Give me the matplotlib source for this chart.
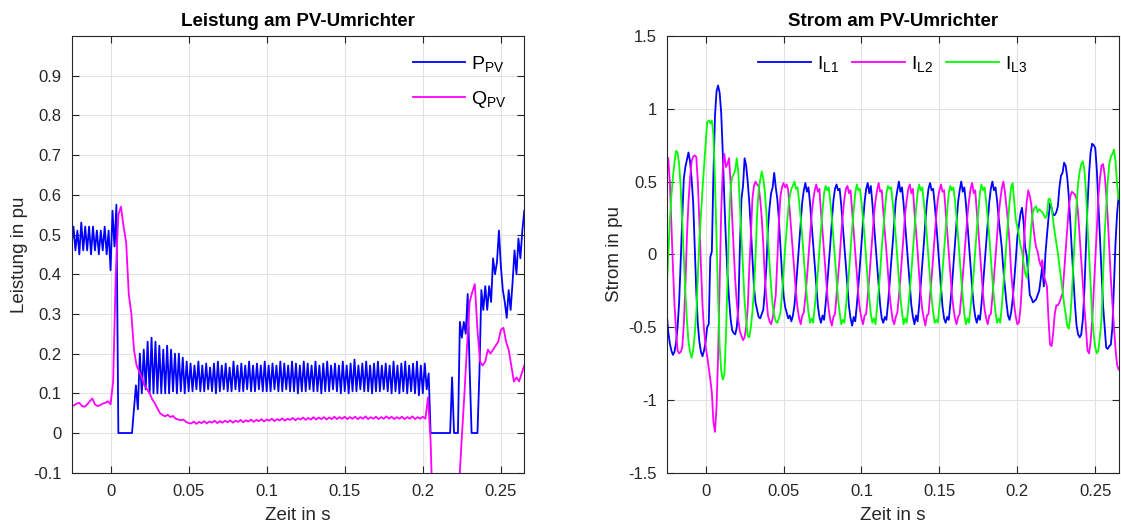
import numpy as np
import matplotlib
matplotlib.use("Agg")
import matplotlib.pyplot as plt
from matplotlib.ticker import FuncFormatter

# time bases (ms): 1 ms grid for currents, 1.25 ms grid for P, 5/3 ms for Q
t_ms = np.arange(-25, 266)
t_p_ms = -25 + np.arange(233) * 1.25
t_q_ms = -25 + np.arange(175) * 5 / 3

# Leistung am PV-Umrichter (pu)
p_pv = [
    0.47, 0.52, 0.46, 0.51, 0.45, 0.53, 0.46, 0.52, 0.46, 0.52,
    0.45, 0.52, 0.46, 0.51, 0.45, 0.51, 0.46, 0.52, 0.45, 0.51,
    0.41, 0.56, 0.47, 0.575, 0.0, 0.0, 0.0, 0.0, 0.0, 0.0,
    0.0, 0.0, 0.06, 0.12, 0.06, 0.20, 0.10, 0.21, 0.11, 0.23,
    0.10, 0.24, 0.10, 0.23, 0.10, 0.22, 0.10, 0.21, 0.10, 0.22,
    0.10, 0.21, 0.105, 0.20, 0.10, 0.20, 0.105, 0.19, 0.10, 0.18,
    0.105, 0.175, 0.105, 0.17, 0.11, 0.18, 0.105, 0.17, 0.105, 0.175,
    0.11, 0.165, 0.105, 0.175, 0.10, 0.18, 0.105, 0.17, 0.11, 0.175,
    0.105, 0.165, 0.105, 0.18, 0.11, 0.17, 0.105, 0.175, 0.105, 0.17,
    0.11, 0.18, 0.105, 0.17, 0.105, 0.175, 0.11, 0.17, 0.105, 0.18,
    0.105, 0.17, 0.105, 0.175, 0.11, 0.17, 0.105, 0.18, 0.105, 0.175,
    0.11, 0.17, 0.105, 0.18, 0.105, 0.175, 0.10, 0.17, 0.105, 0.18,
    0.105, 0.175, 0.11, 0.17, 0.105, 0.18, 0.105, 0.17, 0.10, 0.175,
    0.105, 0.18, 0.105, 0.17, 0.11, 0.175, 0.105, 0.17, 0.10, 0.18,
    0.105, 0.17, 0.10, 0.175, 0.105, 0.185, 0.105, 0.17, 0.11, 0.175,
    0.105, 0.18, 0.105, 0.17, 0.10, 0.175, 0.105, 0.18, 0.105, 0.17,
    0.11, 0.175, 0.105, 0.17, 0.10, 0.18, 0.105, 0.17, 0.10, 0.175,
    0.105, 0.18, 0.10, 0.17, 0.105, 0.175, 0.10, 0.18, 0.095, 0.17,
    0.10, 0.175, 0.11, 0.15,
    0.0, 0.0, 0.0, 0.0, 0.0, 0.0, 0.0, 0.0, 0.0, 0.0,
    0.0, 0.14, 0.0, 0.0, 0.0,
    0.28, 0.24, 0.28, 0.25, 0.35, 0.16, 0.0, 0.0, 0.0, 0.0,
    0.15, 0.36, 0.31, 0.37, 0.31, 0.37, 0.33, 0.44, 0.40, 0.43,
    0.51, 0.42, 0.36, 0.33, 0.29, 0.36, 0.31, 0.38, 0.46, 0.40,
    0.49, 0.44, 0.51, 0.56,
]
q_pv = [
    0.067, 0.070, 0.074, 0.076, 0.068, 0.066, 0.072, 0.080, 0.087, 0.072,
    0.068, 0.070, 0.074, 0.076, 0.080, 0.072, 0.13, 0.40, 0.55, 0.57,
    0.52, 0.48, 0.35, 0.30, 0.21, 0.17, 0.155, 0.14, 0.12, 0.11,
    0.10, 0.085, 0.075, 0.062, 0.050, 0.045, 0.042, 0.046, 0.040, 0.043,
    0.036, 0.034, 0.032, 0.034, 0.028, 0.025,
    0.024, 0.029, 0.023, 0.028, 0.025, 0.030, 0.024, 0.029, 0.026, 0.031,
    0.025, 0.030, 0.026, 0.031, 0.027, 0.032, 0.026, 0.031, 0.028, 0.033,
    0.027, 0.032, 0.029, 0.034, 0.028, 0.033, 0.030, 0.035, 0.029, 0.034,
    0.031, 0.036, 0.030, 0.035, 0.032, 0.037, 0.031, 0.036, 0.033, 0.038,
    0.032, 0.037, 0.034, 0.039, 0.033, 0.038, 0.034, 0.040, 0.034, 0.039,
    0.035, 0.040, 0.034, 0.039, 0.035, 0.041, 0.035, 0.040, 0.036, 0.041,
    0.035, 0.040, 0.036, 0.041, 0.035, 0.040, 0.036, 0.042, 0.035, 0.040,
    0.036, 0.041, 0.035, 0.040, 0.036, 0.042, 0.036, 0.041, 0.035, 0.040,
    0.036, 0.041, 0.035, 0.040, 0.036, 0.042, 0.035, 0.040, 0.036, 0.041,
    0.036,
    0.09, -0.02, -0.25, -0.45, -0.60, -0.65, -0.60, -0.55, -0.50, -0.40,
    -0.30, -0.20, -0.125, -0.01, 0.10, 0.22, 0.33, 0.355, 0.375, 0.26,
    0.18, 0.17, 0.18, 0.21, 0.20, 0.21, 0.22, 0.23, 0.26, 0.265,
    0.23, 0.21, 0.17, 0.13, 0.14, 0.13, 0.15, 0.17,
]

# Strom am PV-Umrichter (pu), 1 ms steps from -25 ms
i_l1 = [
    -0.40, -0.53, -0.61, -0.66, -0.69, -0.67, -0.61, -0.50, -0.33, -0.05,
    0.25, 0.52, 0.60, 0.65, 0.70, 0.64, 0.52, 0.36, 0.05, -0.25,
    -0.48, -0.60, -0.67, -0.70, -0.66, -0.60, -0.50, -0.48, -0.02, 0.02,
    0.55, 0.95, 1.12, 1.16, 1.11, 0.97, 0.70, 0.38, 0.10, -0.13,
    -0.30, -0.44, -0.52, -0.54, -0.55, -0.50, -0.36, 0.05, 0.38, 0.47,
    0.66, 0.61, 0.50, 0.36, 0.18, -0.02, -0.22, -0.33, -0.38, -0.43,
    -0.44, -0.41, -0.38, -0.25, -0.08, 0.18, 0.32, 0.42, 0.46, 0.56,
    0.46, 0.38, 0.24, 0.06, -0.13, -0.28, -0.36, -0.40, -0.44, -0.42,
    -0.46, -0.42, -0.35, -0.22, -0.08, 0.07, 0.22, 0.36, 0.44, 0.49,
    0.43, 0.46, 0.35, 0.21, 0.07, -0.08, -0.22, -0.35, -0.43, -0.47,
    -0.42, -0.45, -0.34, -0.21, -0.07, 0.07, 0.23, 0.37, 0.45, 0.48,
    0.44, 0.45, 0.34, 0.20, 0.06, -0.08, -0.23, -0.36, -0.44, -0.49,
    -0.43, -0.46, -0.35, -0.22, -0.07, 0.08, 0.22, 0.36, 0.45, 0.49,
    0.42, 0.47, 0.35, 0.21, 0.07, -0.07, -0.22, -0.35, -0.44, -0.47,
    -0.43, -0.45, -0.34, -0.21, -0.06, 0.07, 0.22, 0.37, 0.44, 0.50,
    0.43, 0.46, 0.35, 0.21, 0.07, -0.08, -0.22, -0.35, -0.43, -0.48,
    -0.42, -0.46, -0.35, -0.21, -0.07, 0.07, 0.23, 0.36, 0.45, 0.49,
    0.44, 0.45, 0.34, 0.21, 0.06, -0.08, -0.22, -0.36, -0.44, -0.47,
    -0.43, -0.45, -0.34, -0.22, -0.07, 0.08, 0.22, 0.36, 0.44, 0.50,
    0.43, 0.46, 0.35, 0.21, 0.07, -0.08, -0.23, -0.35, -0.43, -0.47,
    -0.42, -0.45, -0.34, -0.21, -0.07, 0.07, 0.22, 0.36, 0.45, 0.50,
    0.44, 0.46, 0.37, 0.25, 0.15, 0.05, -0.10, -0.22, -0.33, -0.42,
    -0.45, -0.40, -0.31, -0.18, -0.04, 0.12, 0.20, 0.28, 0.32, 0.22,
    0.05, -0.01, -0.15, -0.28, -0.30, -0.33, -0.32, -0.31, -0.28, -0.25,
    -0.17, -0.08, -0.22, 0.00, 0.13, 0.25, 0.35, 0.32, 0.27, 0.27,
    0.29, 0.33, 0.46, 0.54, 0.56, 0.63, 0.61, 0.53, 0.40, 0.22,
    0.02, -0.16, -0.35, -0.49, -0.55, -0.57, -0.55, -0.45, -0.25, 0.04,
    0.33, 0.55, 0.70, 0.76, 0.75, 0.73, 0.58, 0.35, 0.13, -0.10,
    -0.35, -0.50, -0.64, -0.65, -0.63, -0.62, -0.50, -0.20, 0.08, 0.28,
    0.40,
]
i_l2 = [
    0.67, 0.66, 0.50, 0.22, -0.08, -0.34, -0.52, -0.66, -0.68, -0.67,
    -0.64, -0.48, -0.22, 0.12, 0.36, 0.52, 0.64, 0.67, 0.68, 0.67,
    0.50, 0.22, -0.08, -0.35, -0.52, -0.63, -0.70, -0.78, -0.86, -0.95,
    -1.15, -1.22, -1.05, -0.70, -0.20, 0.30, 0.58, 0.69, 0.60, 0.62,
    0.66, 0.50, 0.26, 0.04, -0.18, -0.33, -0.45, -0.53, -0.56, -0.59,
    -0.57, -0.50, -0.37, -0.10, 0.12, 0.38, 0.47, 0.50, 0.48, 0.47,
    0.38, 0.25, 0.07, -0.16, -0.30, -0.42, -0.46, -0.48, -0.44, -0.36,
    -0.28, -0.04, 0.22, 0.40, 0.46, 0.49, 0.46, 0.48, 0.44, 0.30,
    0.16, 0.02, -0.13, -0.27, -0.37, -0.44, -0.48, -0.42, -0.40, -0.29,
    -0.16, -0.02, 0.13, 0.27, 0.37, 0.44, 0.48, 0.43, 0.45, 0.29,
    0.16, 0.02, -0.13, -0.27, -0.38, -0.45, -0.49, -0.43, -0.41, -0.28,
    -0.15, -0.02, 0.14, 0.27, 0.38, 0.45, 0.47, 0.42, 0.44, 0.30,
    0.16, 0.01, -0.13, -0.28, -0.38, -0.44, -0.48, -0.42, -0.41, -0.29,
    -0.16, -0.02, 0.13, 0.27, 0.37, 0.44, 0.49, 0.43, 0.44, 0.29,
    0.15, 0.02, -0.13, -0.27, -0.37, -0.45, -0.48, -0.43, -0.40, -0.29,
    -0.16, -0.02, 0.13, 0.28, 0.37, 0.45, 0.48, 0.42, 0.45, 0.29,
    0.16, 0.02, -0.14, -0.27, -0.38, -0.44, -0.49, -0.42, -0.41, -0.28,
    -0.16, -0.01, 0.13, 0.27, 0.38, 0.44, 0.48, 0.43, 0.44, 0.30,
    0.16, 0.02, -0.13, -0.27, -0.37, -0.44, -0.48, -0.43, -0.41, -0.29,
    -0.15, -0.02, 0.13, 0.27, 0.37, 0.45, 0.49, 0.42, 0.44, 0.29,
    0.16, 0.02, -0.13, -0.28, -0.38, -0.44, -0.48, -0.42, -0.41, -0.29,
    -0.16, -0.02, 0.13, 0.27, 0.37, 0.45, 0.50, 0.43, 0.33, 0.22,
    0.08, -0.12, -0.24, -0.35, -0.43, -0.48, -0.47, -0.37, -0.20, 0.03,
    0.22, 0.36, 0.44, 0.40, 0.34, 0.21, 0.12, 0.05, 0.02, -0.04,
    -0.08, -0.04, -0.15, -0.18, -0.22, -0.45, -0.62, -0.63, -0.54, -0.41,
    -0.35, -0.35, -0.33, -0.30, -0.27, -0.12, 0.04, 0.18, 0.32, 0.40,
    0.43, 0.42, 0.41, 0.38, 0.28, 0.12, -0.03, -0.19, -0.36, -0.50,
    -0.66, -0.68, -0.60, -0.46, -0.25, -0.04, 0.17, 0.40, 0.52, 0.61,
    0.62, 0.55, 0.42, 0.25, 0.04, -0.17, -0.34, -0.50, -0.65, -0.76,
    -0.79,
]
i_l3 = [
    -0.25, -0.02, 0.22, 0.40, 0.53, 0.63, 0.71, 0.70, 0.62, 0.46,
    0.22, -0.02, -0.26, -0.45, -0.60, -0.67, -0.71, -0.66, -0.55, -0.41,
    -0.16, 0.10, 0.28, 0.45, 0.60, 0.76, 0.91, 0.92, 0.90, 0.92,
    0.82, 0.50, 0.10, -0.28, -0.63, -0.80, -0.86, -0.83, -0.58, -0.18,
    0.20, 0.45, 0.53, 0.55, 0.58, 0.66, 0.56, 0.33, 0.12, -0.10,
    -0.32, -0.45, -0.56, -0.57, -0.50, -0.40, -0.25, -0.02, 0.27, 0.44,
    0.51, 0.57, 0.52, 0.43, 0.28, 0.10, -0.06, -0.22, -0.35, -0.42,
    -0.46, -0.47, -0.44, -0.40, -0.28, -0.12, 0.04, 0.18, 0.31, 0.40,
    0.45, 0.47, 0.50, 0.45, 0.46, 0.36, 0.25, 0.12, -0.03, -0.17,
    -0.30, -0.40, -0.47, -0.44, -0.47, -0.36, -0.25, -0.12, 0.03, 0.17,
    0.30, 0.42, 0.47, 0.44, 0.46, 0.36, 0.25, 0.11, -0.03, -0.17,
    -0.31, -0.40, -0.48, -0.45, -0.47, -0.36, -0.24, -0.12, 0.03, 0.18,
    0.30, 0.42, 0.48, 0.44, 0.45, 0.36, 0.25, 0.12, -0.03, -0.18,
    -0.30, -0.41, -0.47, -0.44, -0.48, -0.36, -0.25, -0.12, 0.04, 0.17,
    0.30, 0.42, 0.47, 0.45, 0.46, 0.36, 0.24, 0.12, -0.03, -0.17,
    -0.30, -0.40, -0.48, -0.44, -0.47, -0.37, -0.25, -0.12, 0.03, 0.17,
    0.31, 0.42, 0.48, 0.44, 0.46, 0.36, 0.25, 0.12, -0.03, -0.17,
    -0.30, -0.40, -0.47, -0.45, -0.47, -0.36, -0.25, -0.11, 0.03, 0.18,
    0.30, 0.42, 0.47, 0.44, 0.46, 0.37, 0.25, 0.12, -0.03, -0.17,
    -0.30, -0.41, -0.48, -0.44, -0.47, -0.36, -0.25, -0.12, 0.03, 0.17,
    0.30, 0.42, 0.48, 0.44, 0.46, 0.36, 0.25, 0.12, -0.03, -0.17,
    -0.30, -0.40, -0.47, -0.44, -0.47, -0.36, -0.22, -0.08, 0.08, 0.22,
    0.36, 0.46, 0.49, 0.36, 0.24, 0.19, 0.13, 0.06, 0.02, -0.06,
    -0.13, -0.16, -0.08, 0.06, 0.20, 0.29, 0.32, 0.33, 0.29, 0.31,
    0.30, 0.29, 0.27, 0.25, 0.27, 0.38, 0.38, 0.32, 0.23, 0.15,
    0.08, 0.01, -0.08, -0.16, -0.25, -0.34, -0.41, -0.49, -0.51, -0.43,
    -0.27, -0.05, 0.15, 0.34, 0.49, 0.57, 0.62, 0.64, 0.58, 0.44,
    0.20, 0.00, -0.20, -0.42, -0.55, -0.64, -0.68, -0.66, -0.56, -0.45,
    -0.15, 0.14, 0.32, 0.50, 0.62, 0.67, 0.69, 0.72, 0.64, 0.48,
    0.38,
]

BLUE = "#0000ff"
MAGENTA = "#ff00ff"
GREEN = "#00ff00"
AXC = "#262626"

plt.rcParams.update({
    "font.family": ["Liberation Sans", "DejaVu Sans"],
    "axes.unicode_minus": False,
    "mathtext.fontset": "custom",
    "mathtext.rm": "Liberation Sans",
    "mathtext.it": "Liberation Sans:italic",
})


def style_axes(ax):
    ax.grid(True, color="#e2e2e2", linewidth=0.8)
    ax.set_axisbelow(True)
    for sp in ax.spines.values():
        sp.set_color(AXC)
        sp.set_linewidth(0.8)
    ax.tick_params(direction="in", top=True, right=True, length=5,
                   width=0.8, color=AXC, labelcolor=AXC, labelsize=12)
    ax.tick_params(axis="x", pad=8)
    ax.tick_params(axis="y", pad=7)
    fmt = FuncFormatter(lambda v, pos: "%g" % round(v, 4))
    ax.xaxis.set_major_formatter(fmt)
    ax.yaxis.set_major_formatter(fmt)
    ax.set_xlim(-0.025, 0.265)
    ax.set_xticks([0, 0.05, 0.1, 0.15, 0.2, 0.25])


fig = plt.figure(figsize=(11.21, 5.25), dpi=100)

# left: power
ax1 = fig.add_axes([0.0638, 0.0996, 0.4039, 0.8318])
ax1.plot(t_p_ms / 1000, p_pv, color=BLUE, lw=1.3, label=r"$\mathregular{P_{PV}}$")
ax1.plot(t_q_ms / 1000, q_pv, color=MAGENTA, lw=1.3, label=r"$\mathregular{Q_{PV}}$")
style_axes(ax1)
ax1.set_ylim(-0.1, 1.0)
ax1.set_yticks([-0.1, 0, 0.1, 0.2, 0.3, 0.4, 0.5, 0.6, 0.7, 0.8, 0.9])
ax1.set_title("Leistung am PV-Umrichter", fontsize=13.5, fontweight="bold",
              color="black", pad=7)
ax1.set_xlabel("Zeit in s", fontsize=13.5, color=AXC, labelpad=6)
ax1.set_ylabel("Leistung in pu", fontsize=13.5, color=AXC, labelpad=4)
ax1.legend(loc="upper right", frameon=False, fontsize=14, handlelength=2.7,
           handletextpad=0.3, labelspacing=0.8, borderaxespad=0.5)

# right: currents
ax2 = fig.add_axes([0.5947, 0.0996, 0.4032, 0.8318])
t_i = t_ms / 1000
ax2.plot(t_i, i_l1, color=BLUE, lw=1.3, label=r"$\mathregular{I_{L1}}$")
ax2.plot(t_i, i_l2, color=MAGENTA, lw=1.3, label=r"$\mathregular{I_{L2}}$")
ax2.plot(t_i, i_l3, color=GREEN, lw=1.3, label=r"$\mathregular{I_{L3}}$")
style_axes(ax2)
ax2.set_ylim(-1.5, 1.5)
ax2.set_yticks([-1.5, -1, -0.5, 0, 0.5, 1, 1.5])
ax2.set_title("Strom am PV-Umrichter", fontsize=13.5, fontweight="bold",
              color="black", pad=7)
ax2.set_xlabel("Zeit in s", fontsize=13.5, color=AXC, labelpad=6)
ax2.set_ylabel("Strom in pu", fontsize=13.5, color=AXC, labelpad=4)
ax2.legend(loc="upper center", ncol=3, frameon=False, fontsize=14,
           handlelength=2.7, handletextpad=0.3, columnspacing=0.7,
           borderaxespad=0.5)

fig.savefig("out.png", dpi=100)
